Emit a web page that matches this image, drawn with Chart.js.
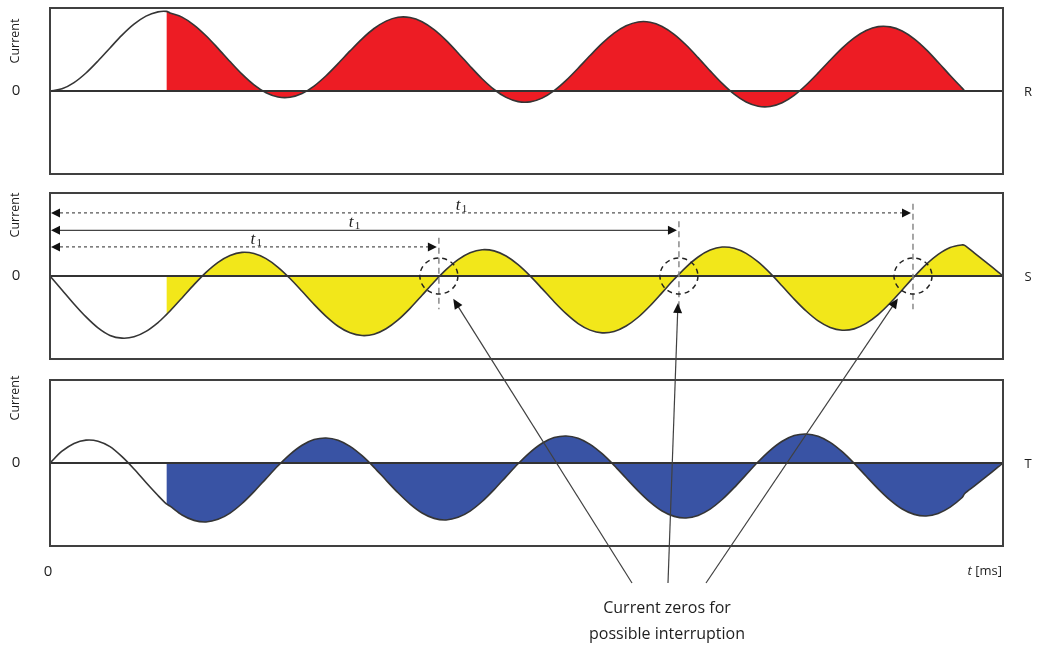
<!DOCTYPE html>
<html>
<head>
<meta charset="utf-8">
<script src="https://cdn.jsdelivr.net/npm/chart.js@4.4.1/dist/chart.umd.min.js"></script>
<style>
  html, body { margin: 0; padding: 0; background: #fff; }
  #wrap { width: 1037px; height: 649px; }
</style>
</head>
<body>
<div id="wrap"><canvas id="chart" width="1037" height="649"></canvas></div>
<script>
// time in ms, one sample per ms plus the fault instant and the R interruption
const time = [0, 1, 2, 3, 4, 5, 6, 7, 8, 9, 9.7,
  10, 11, 12, 13, 14, 15, 16, 17, 18, 19, 20, 21, 22, 23, 24, 25, 26, 27, 28, 29,
  30, 31, 32, 33, 34, 35, 36, 37, 38, 39, 40, 41, 42, 43, 44, 45, 46, 47, 48, 49,
  50, 51, 52, 53, 54, 55, 56, 57, 58, 59, 60, 61, 62, 63, 64, 65, 66, 67, 68, 69,
  70, 71, 72, 73, 74, 75, 76, 76.2, 77, 78, 79, 79.4];

const currentR = [0, 0.026, 0.101, 0.217, 0.362, 0.519, 0.673, 0.805, 0.902, 0.953, 0.959,
  0.941, 0.890, 0.795, 0.666, 0.514, 0.355, 0.203, 0.074, -0.021, -0.072,
  -0.075, -0.030, 0.060, 0.184, 0.330, 0.483, 0.629, 0.753, 0.842, 0.888,
  0.885, 0.834, 0.739, 0.610, 0.458, 0.299, 0.147, 0.018, -0.077, -0.128,
  -0.131, -0.086, 0.004, 0.128, 0.274, 0.427, 0.573, 0.697, 0.786, 0.832,
  0.829, 0.778, 0.683, 0.554, 0.402, 0.243, 0.091, -0.038, -0.133, -0.184,
  -0.187, -0.142, -0.053, 0.072, 0.218, 0.371, 0.517, 0.641, 0.730, 0.776,
  0.773, 0.722, 0.627, 0.498, 0.346, 0.187, 0.035, 0, null, null, null, null];

const currentS = [0, -0.168, -0.337, -0.493, -0.625, -0.716, -0.749, -0.733, -0.667, -0.561, -0.466,
  -0.422, -0.264, -0.104, 0.044, 0.165, 0.248, 0.285, 0.271, 0.209, 0.105,
  -0.030, -0.184, -0.342, -0.486, -0.605, -0.684, -0.717, -0.701, -0.635, -0.529,
  -0.390, -0.232, -0.072, 0.076, 0.197, 0.280, 0.317, 0.303, 0.241, 0.137,
  0.002, -0.152, -0.310, -0.454, -0.573, -0.652, -0.685, -0.669, -0.603, -0.497,
  -0.358, -0.200, -0.040, 0.108, 0.229, 0.312, 0.349, 0.335, 0.273, 0.169,
  0.034, -0.120, -0.278, -0.422, -0.541, -0.620, -0.653, -0.637, -0.571, -0.465,
  -0.326, -0.168, -0.008, 0.140, 0.261, 0.344, 0.375, 0.370, 0.280, 0.165, 0.048, 0];

const currentT = [0, 0.142, 0.236, 0.276, 0.263, 0.197, 0.076, -0.072, -0.235, -0.392, -0.493,
  -0.519, -0.626, -0.691, -0.710, -0.679, -0.603, -0.488, -0.345, -0.188, -0.033,
  0.105, 0.214, 0.282, 0.302, 0.275, 0.201, 0.088, -0.052, -0.207, -0.359,
  -0.495, -0.602, -0.667, -0.686, -0.655, -0.579, -0.464, -0.321, -0.164, -0.009,
  0.129, 0.238, 0.306, 0.326, 0.299, 0.225, 0.112, -0.028, -0.183, -0.335,
  -0.471, -0.578, -0.643, -0.662, -0.631, -0.555, -0.440, -0.297, -0.140, 0.015,
  0.153, 0.262, 0.331, 0.350, 0.323, 0.249, 0.136, -0.004, -0.159, -0.311,
  -0.447, -0.554, -0.619, -0.638, -0.607, -0.531, -0.416, -0.370, -0.280, -0.165, -0.048, 0];

const faultStart = 9.7;   // fill begins here
const tEnd = 79.4;

// zeros of S marked as possible interruption points, and the t1 arrows
const sZeros = [32.4, 52.4, 71.9];
const t1Levels = [0.35, 0.55, 0.76];
const t1LabelAt = [17.2, 25.4, 34.3];
const t1Dashed = [true, false, true];

const phases = [
  { name: 'R', axis: 'yR', values: currentR, color: '#ed1c24', labelOffset: 33 },
  { name: 'S', axis: 'yS', values: currentS, color: '#f2e71a', labelOffset: 22 },
  { name: 'T', axis: 'yT', values: currentT, color: '#3953a4', labelOffset: 18 }
];

const pts = vals => time.map((t, i) => ({ x: t, y: vals[i] }));
const fillPts = vals => pts(vals).filter(p => p.x >= faultStart && p.y !== null);

const datasets = [];
phases.forEach(p => {
  datasets.push({
    data: fillPts(p.values), yAxisID: p.axis, fill: 'origin',
    backgroundColor: p.color, borderWidth: 0, pointRadius: 0, tension: 0.3, order: 2
  });
  datasets.push({
    data: pts(p.values), yAxisID: p.axis, fill: false,
    borderColor: '#353535', borderWidth: 1.6, pointRadius: 0, tension: 0.3, order: 1
  });
});

function arrowHead(ctx, x, y, angle, len, half) {
  ctx.save();
  ctx.translate(x, y);
  ctx.rotate(angle);
  ctx.beginPath();
  ctx.moveTo(0, 0);
  ctx.lineTo(-len, -half);
  ctx.lineTo(-len, half);
  ctx.closePath();
  ctx.fill();
  ctx.restore();
}

const overlay = {
  id: 'overlay',
  afterDatasetsDraw(chart) {
    const ctx = chart.ctx;
    const xs = chart.scales.x;
    const left = xs.getPixelForValue(0), right = xs.getPixelForValue(tEnd);
    ctx.save();

    phases.forEach(p => {
      const ys = chart.scales[p.axis];
      const top = ys.getPixelForValue(1), bottom = ys.getPixelForValue(-1);
      const zero = ys.getPixelForValue(0);
      ctx.setLineDash([]);
      ctx.strokeStyle = '#333';
      ctx.lineWidth = 2;
      ctx.beginPath();
      ctx.moveTo(left, zero);
      ctx.lineTo(right, zero);
      ctx.stroke();
      ctx.strokeStyle = '#404040';
      ctx.strokeRect(left, top, right - left, bottom - top);

      ctx.fillStyle = '#1e1e1e';
      ctx.font = '15px "Open Sans"';
      ctx.textAlign = 'center';
      ctx.textBaseline = 'middle';
      ctx.fillText('0', 16, zero);
      ctx.font = '13px "Open Sans"';
      ctx.fillText(p.name, 1028, zero + 1);

      ctx.save();
      ctx.translate(15, top + p.labelOffset);
      ctx.rotate(-Math.PI / 2);
      ctx.font = '12.5px "Open Sans"';
      ctx.fillText('Current', 0, 0);
      ctx.restore();
    });

    // t1 arrows, vertical markers and dashed circles in the S panel
    const ys = chart.scales.yS;
    const zeroS = ys.getPixelForValue(0);
    sZeros.forEach((tz, i) => {
      const xz = xs.getPixelForValue(tz);
      const yl = ys.getPixelForValue(t1Levels[i]);
      ctx.strokeStyle = t1Dashed[i] ? '#555' : '#444';
      ctx.lineWidth = 1.3;
      ctx.setLineDash(t1Dashed[i] ? [3, 3] : []);
      ctx.beginPath();
      ctx.moveTo(left + 4, yl);
      ctx.lineTo(xz - 6, yl);
      ctx.stroke();
      ctx.setLineDash([]);
      ctx.fillStyle = '#111';
      arrowHead(ctx, left + 1, yl, Math.PI, 9, 4.5);
      arrowHead(ctx, xz - 2, yl, 0, 9, 4.5);

      ctx.strokeStyle = '#8a8a8a';
      ctx.lineWidth = 1.5;
      ctx.setLineDash([6, 4]);
      ctx.beginPath();
      ctx.moveTo(xz, ys.getPixelForValue(t1Levels[i] + 0.11));
      ctx.lineTo(xz, ys.getPixelForValue(-0.4));
      ctx.stroke();

      ctx.strokeStyle = '#222';
      ctx.setLineDash([5, 4]);
      ctx.beginPath();
      ctx.ellipse(xz, zeroS, 19, 18, 0, 0, Math.PI * 2);
      ctx.stroke();
      ctx.setLineDash([]);

      const lx = xs.getPixelForValue(t1LabelAt[i]);
      ctx.fillStyle = '#1e1e1e';
      ctx.textAlign = 'left';
      ctx.textBaseline = 'alphabetic';
      ctx.font = 'italic 17px "Liberation Serif"';
      ctx.fillText('t', lx - 6, yl - 3);
      ctx.font = '11px "Liberation Serif"';
      ctx.fillText('1', lx, yl - 1);
    });

    // pointers from the caption to the marked zeros
    const anchors = [[632, 583], [668, 583], [706, 583]];
    ctx.strokeStyle = '#404040';
    ctx.fillStyle = '#111';
    ctx.lineWidth = 1.2;
    sZeros.forEach((tz, i) => {
      const cx = xs.getPixelForValue(tz);
      const [ax, ay] = anchors[i];
      const dx = ax - cx, dy = ay - zeroS;
      const d = Math.hypot(dx, dy);
      const tx = cx + dx / d * 27, ty = zeroS + dy / d * 27;
      ctx.beginPath();
      ctx.moveTo(ax, ay);
      ctx.lineTo(tx + dx / d * 6, ty + dy / d * 6);
      ctx.stroke();
      arrowHead(ctx, tx, ty, Math.atan2(-dy, -dx), 10, 4.5);
    });

    ctx.fillStyle = '#1e1e1e';
    ctx.textAlign = 'center';
    ctx.textBaseline = 'middle';
    ctx.font = '16px "Open Sans"';
    ctx.fillText('Current zeros for', 667, 608);
    ctx.fillText('possible interruption', 667, 634);

    // time axis labels
    ctx.font = '15px "Open Sans"';
    ctx.fillText('0', left - 2, 572);
    ctx.textAlign = 'right';
    ctx.font = '13px "Open Sans"';
    ctx.fillText(' [ms]', right - 1, 571);
    const w = ctx.measureText(' [ms]').width;
    ctx.font = 'italic 13px "Open Sans"';
    ctx.fillText('t', right - 1 - w, 571);

    ctx.restore();
  }
};

new Chart(document.getElementById('chart'), {
  type: 'line',
  data: { datasets },
  options: {
    responsive: false,
    animation: false,
    devicePixelRatio: 1,
    layout: { padding: { left: 50, right: 34, top: 8, bottom: 102 } },
    plugins: { legend: { display: false }, tooltip: { enabled: false } },
    scales: {
      x: { type: 'linear', min: 0, max: tEnd, display: false },
      yR: { min: -5.494, max: 1.0, display: false },
      yS: { min: -3.265, max: 3.229, display: false },
      yT: { min: -1.012, max: 5.482, display: false }
    }
  },
  plugins: [overlay]
});
</script>
</body>
</html>
